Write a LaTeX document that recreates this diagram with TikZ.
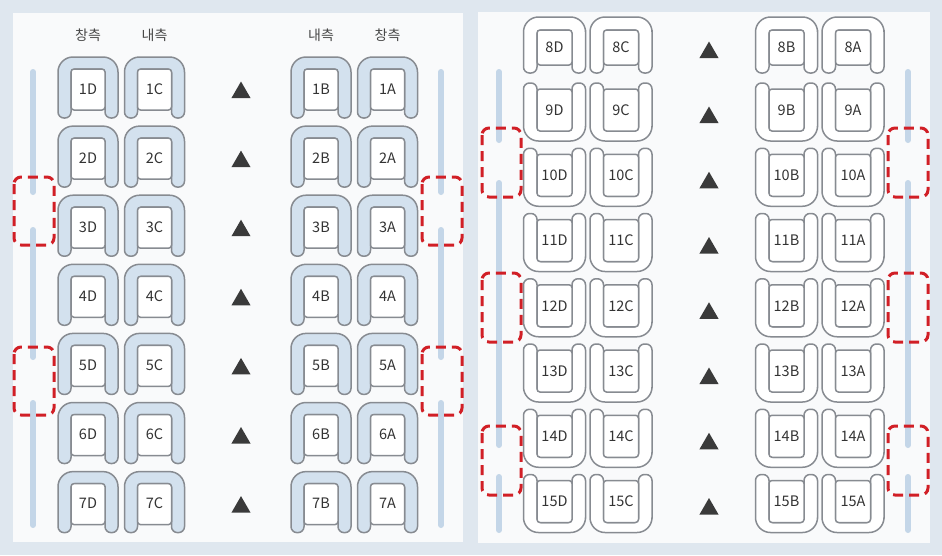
\documentclass[tikz,border=0pt]{standalone}
\usepackage{fontspec}
\setmainfont{Noto Sans CJK KR}
\usetikzlibrary{shapes.geometric}

\definecolor{bgblue}{HTML}{DFE7EF}
\definecolor{panelwhite}{HTML}{F9FAFB}
\definecolor{seatgray}{HTML}{878B91}
\definecolor{seatblue}{HTML}{D3E1EE}
\definecolor{winblue}{HTML}{C4D6E8}
\definecolor{exitred}{HTML}{D11F26}
\definecolor{trigray}{HTML}{3A3A3A}
\definecolor{txtgray}{HTML}{333333}

% seat outline: width, height, arm, back, gap below cushion, fill
\newcommand\seatshape[6]{%
  \draw[seatline,fill=#6] (-#1/2,0) [rounded corners=15pt] -- (-#1/2,-#2/2) -- (#1/2,-#2/2) -- (#1/2,0)
    [rounded corners=6pt] -- (#1/2,#2/2) -- (#1/2-#3,#2/2) -- (#1/2-#3,0)
    [rounded corners=4pt] -- (#1/2-#3,-#2/2+#4) -- (-#1/2+#3,-#2/2+#4) -- (-#1/2+#3,0)
    [rounded corners=6pt] -- (-#1/2+#3,#2/2) -- (-#1/2,#2/2) -- cycle;
  \draw[seatline,fill=white,rounded corners=3pt] (-#1/2+#3,-#2/2+#4) rectangle (#1/2-#3,#2/2-#5);
}

\begin{document}
\begin{tikzpicture}[x=1pt,y=-1pt,
  seatline/.style={draw=seatgray,line width=1.5pt},
  lbl/.style={font=\fontsize{14.5}{16}\selectfont,text=txtgray,inner sep=0pt},
  hdr/.style={font=\fontsize{14}{16}\selectfont,text=txtgray!90,inner sep=0pt},
  tri/.style={regular polygon,regular polygon sides=3,minimum size=22pt,inner sep=0pt,fill=trigray},
  win/.style={draw=winblue,line width=6pt,line cap=round},
  exitbox/.style={draw=exitred,line width=3pt,dash pattern=on 10pt off 6pt,rounded corners=7pt},
  pics/blueseat/.style={code={\seatshape{60}{61}{13}{12}{8}{seatblue}}},
  pics/frontseat/.style={code={\seatshape{62}{56}{13.5}{13}{8}{white}}},
  pics/backseat/.style={code={\begin{scope}[yscale=-1]\seatshape{62}{58}{13.5}{10}{6}{white}\end{scope}}}
]
\useasboundingbox (0,0) rectangle (942,555);
\fill[bgblue] (0,0) rectangle (942,555);
\fill[panelwhite] (13,13) rectangle (463,542);
\fill[panelwhite] (478,12) rectangle (930,543);

% Left car: rows 1-7
\node[hdr] (hl1) at (88,35) {창측};
\node[hdr] (hl2) at (154.5,35) {내측};
\node[hdr] (hl3) at (321,35) {내측};
\node[hdr] (hl4) at (387.5,35) {창측};
\foreach \wx in {33,441}{
  \draw[win] (\wx,72) -- (\wx,192);
  \draw[win] (\wx,230) -- (\wx,357);
  \draw[win] (\wx,403) -- (\wx,525);
}
\draw[exitbox] (14,177) rectangle (54,245);
\draw[exitbox] (14,347) rectangle (54,415);
\draw[exitbox] (422,177) rectangle (462,245);
\draw[exitbox] (422,347) rectangle (462,415);
\foreach \r in {1,...,7}{
  \pgfmathsetmacro\yy{87.5+69.1*(\r-1)}
  \foreach \c/\xx in {D/88,C/154.5,B/321,A/387.5}{
    \pic at (\xx,\yy) {blueseat};
    \node[lbl] (s\r\c) at (\xx,\yy+1.5) {\r\c};
  }
  \node[tri] (t\r) at (241,\yy+5) {};
}

% Right car: rows 8-15
\foreach \wx in {499,908}{
  \draw[win] (\wx,72) -- (\wx,140);
  \draw[win] (\wx,183) -- (\wx,445);
  \draw[win] (\wx,477) -- (\wx,530);
}
\foreach \by in {128,273,426}{
  \draw[exitbox] (482,\by) rectangle (521,\by+69);
  \draw[exitbox] (888,\by) rectangle (928,\by+69);
}
\foreach \c/\xx in {D/554.5,C/621,B/786.5,A/853}{
  \pic at (\xx,45) {frontseat};
  \node[lbl] (s8\c) at (\xx,47.5) {8\c};
}
\node[tri] (t8) at (709,52.5) {};
\foreach \r in {9,...,15}{
  \pgfmathsetmacro\yy{112+65.25*(\r-9)}
  \foreach \c/\xx in {D/554.5,C/621,B/786.5,A/853}{
    \pic at (\xx,\yy) {backseat};
    \node[lbl] (s\r\c) at (\xx,\yy-2) {\r\c};
  }
  \node[tri] (t\r) at (709,\yy+5.5) {};
}
\end{tikzpicture}
\end{document}
